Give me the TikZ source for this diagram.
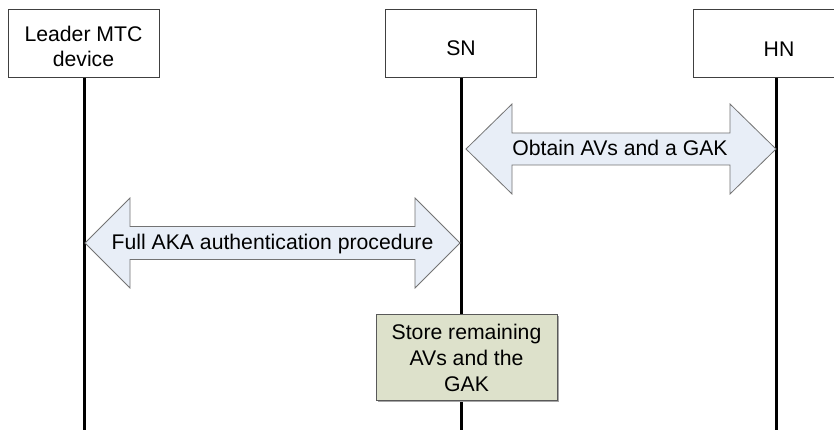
\documentclass[tikz,border=0pt]{standalone}
\usepackage{fontspec}
\setmainfont{Liberation Sans}
\begin{document}
\begin{tikzpicture}[x=1pt,y=-1pt,
  party/.style={draw=black!75, line width=0.9pt, fill=white},
  lifeline/.style={draw=black, line width=3pt},
  dblarrow/.style={draw=black!55, line width=0.8pt, fill=arrowblue},
  storebox/.style={draw=black!65, line width=0.9pt, fill=storegreen},
  lbl/.style={font=\fontsize{21.2}{25}\selectfont, inner sep=0pt, align=center}
]
\definecolor{arrowblue}{RGB}{232,238,247}
\definecolor{storegreen}{RGB}{221,225,203}
\clip (0,0) rectangle (834,430);
\fill[white] (0,0) rectangle (834,430);

% lifelines
\coordinate (l1top) at (84,77);  \coordinate (l1bot) at (84,432);
\coordinate (l2top) at (461,77); \coordinate (l2bot) at (461,432);
\coordinate (l3top) at (776,77); \coordinate (l3bot) at (776,432);
\draw[lifeline] (l1top) -- (l1bot);
\draw[lifeline] (l2top) -- (l2bot);
\draw[lifeline] (l3top) -- (l3bot);

% participant boxes
\draw[party] (8,9) rectangle (159,77);
\draw[party] (385,9) rectangle (536,77);
\draw[party] (693,9) rectangle (870,77);
\node[lbl, anchor=center] (leader) at (83.5,46) {Leader MTC\\device};
\node[lbl, anchor=base] (sn) at (461,56) {SN};
\node[lbl, anchor=base] (hn) at (779,57) {HN};

% arrow 1: Obtain AVs and a GAK
\draw[dblarrow] (466,149) -- (512,104) -- (512,133) -- (730,133) -- (730,104)
  -- (776,149) -- (730,194) -- (730,165) -- (512,165) -- (512,194) -- cycle;
\node[lbl, anchor=base] (obtain) at (620,156) {Obtain AVs and a GAK};

% arrow 2: Full AKA authentication procedure
\draw[dblarrow] (85,243) -- (130,198) -- (130,226.5) -- (415,226.5) -- (415,198)
  -- (460,243) -- (415,288) -- (415,259.5) -- (130,259.5) -- (130,288) -- cycle;
\node[lbl, anchor=base] (aka) at (272.5,249.5) {Full AKA authentication procedure};

% store box
\fill[black!35] (377.5,315.5) rectangle (558.5,401.5);
\draw[storebox] (376,314) rectangle (557,400);
\node[lbl, anchor=center, font=\fontsize{21.2}{26}\selectfont] (store) at (466.5,358) {Store remaining\\AVs and the\\GAK};
\end{tikzpicture}
\end{document}
